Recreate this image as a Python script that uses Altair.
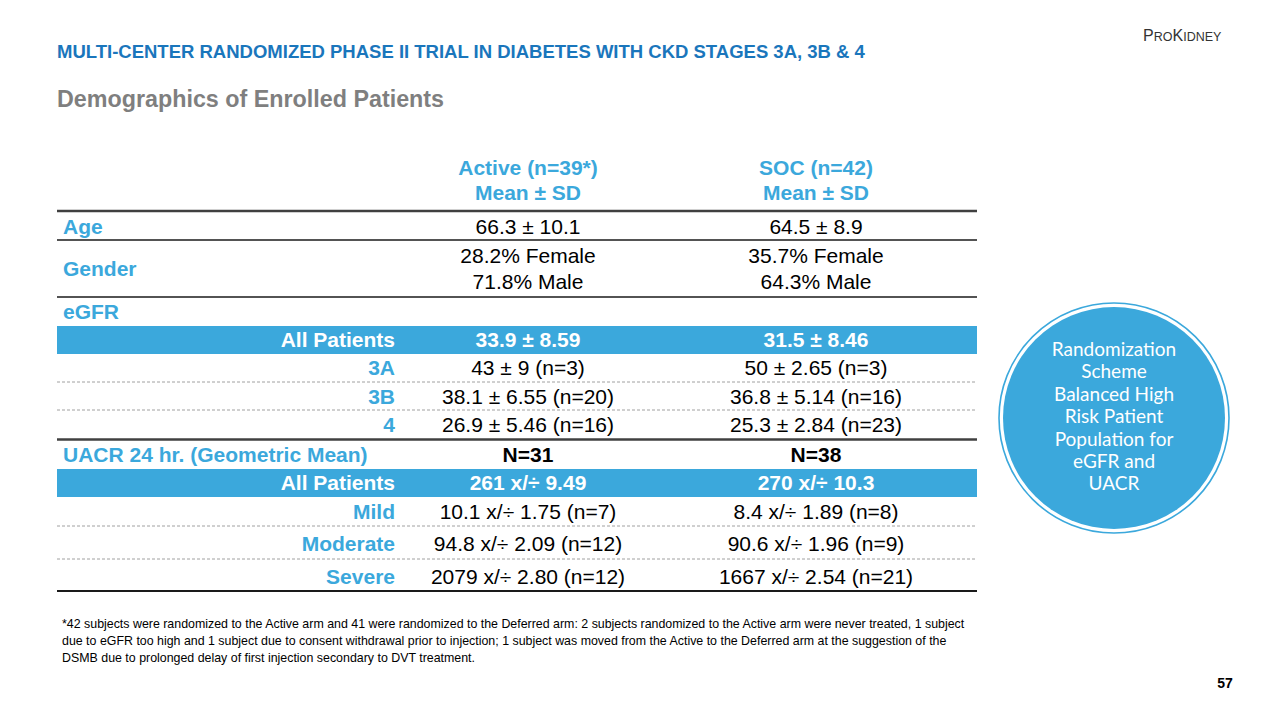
import altair as alt
import pandas as pd

# ---------------- data (text content) ----------------
title_text = "MULTI-CENTER RANDOMIZED PHASE II TRIAL IN DIABETES WITH CKD STAGES 3A, 3B & 4"
subtitle_text = "Demographics of Enrolled Patients"
logo_parts = ["P", "RO", "K", "IDNEY"]
page_number = "57"

arm_headers = ["Active (n=39*)", "SOC (n=42)"]
stat_header = "Mean ± SD"

section_labels = ["Age", "Gender", "eGFR", "UACR 24 hr. (Geometric Mean)"]
age_values = ["66.3 ± 10.1", "64.5 ± 8.9"]
gender_female = ["28.2% Female", "35.7% Female"]
gender_male = ["71.8% Male", "64.3% Male"]

egfr_groups = ["All Patients", "3A", "3B", "4"]
egfr_active = ["33.9 ± 8.59", "43 ± 9 (n=3)", "38.1 ± 6.55 (n=20)", "26.9 ± 5.46 (n=16)"]
egfr_soc = ["31.5 ± 8.46", "50 ± 2.65 (n=3)", "36.8 ± 5.14 (n=16)", "25.3 ± 2.84 (n=23)"]

uacr_n = ["N=31", "N=38"]
uacr_groups = ["All Patients", "Mild", "Moderate", "Severe"]
uacr_active = ["261 x/÷ 9.49", "10.1 x/÷ 1.75 (n=7)", "94.8 x/÷ 2.09 (n=12)", "2079 x/÷ 2.80 (n=12)"]
uacr_soc = ["270 x/÷ 10.3", "8.4 x/÷ 1.89 (n=8)", "90.6 x/÷ 1.96 (n=9)", "1667 x/÷ 2.54 (n=21)"]

callout_lines = ["Randomization", "Scheme", "Balanced High", "Risk Patient",
                 "Population for", "eGFR and", "UACR"]

footnote_lines = [
    "*42 subjects were randomized to the Active arm and 41 were randomized to the Deferred arm: 2 subjects randomized to the Active arm were never treated, 1 subject",
    "due to eGFR too high and 1 subject due to consent withdrawal prior to injection; 1 subject was moved from the Active to the Deferred arm at the suggestion of the",
    "DSMB due to prolonged delay of first injection secondary to DVT treatment.",
]

# ---------------- layout (slide pixel grid) ----------------
W, H = 1264, 704
X_LEFT, X_RIGHT = 57, 977
X_LABEL = 63
X_SUBLABEL = 395
X_ARMS = [528, 816]
Y_HEAD = [169, 194]
Y_AGE = 228
Y_GENDER = [257, 283]
Y_GENDER_LABEL = 270
Y_EGFR_LABEL = 313
Y_EGFR_ROWS = [341, 369, 398, 426]
Y_UACR_LABEL = 456
Y_UACR_ROWS = [484, 513, 545, 578]
BANDS = [(326, 354), (469, 497)]
SOLID = [(211, 2.5, "#404040"), (240, 1.6, "#1a1a1a"), (297, 1.6, "#1a1a1a"),
         (439.5, 2.5, "#404040"), (591, 2.0, "#1a1a1a")]
DASHED = [382, 410, 526, 559]
CIRCLE = (1114, 418)
CALLOUT_Y0, CALLOUT_DY = 350, 22.4
FOOT_X, FOOT_Y0, FOOT_DY = 62, 624, 17
LOGO_X = [1143, 1153.7, 1172.5, 1183.2]
LOGO_SIZE = [16, 12.5, 16, 12.5]
LOGO_BASE = 41

BLUE = "#3ba8dc"
TITLE_BLUE = "#1a76bc"
FONT = "Liberation Sans"

xs = alt.Scale(domain=[8, 8 + W], range=[0, W])
ys = alt.Scale(domain=[8, 8 + H], range=[0, H])


def texts(rows, size, color, weight="normal", align="center", font=FONT, baseline="middle"):
    df = pd.DataFrame(rows, columns=["t", "x", "y"])
    return alt.Chart(df).mark_text(
        fontSize=size, color=color, fontWeight=weight, align=align,
        baseline=baseline, font=font
    ).encode(
        x=alt.X("x:Q", scale=xs, axis=None),
        y=alt.Y("y:Q", scale=ys, axis=None),
        text="t:N",
    )


# bands
band_df = pd.DataFrame({"x": [X_LEFT] * 2, "x2": [X_RIGHT] * 2,
                        "y": [b[0] for b in BANDS], "y2": [b[1] for b in BANDS]})
bands = alt.Chart(band_df).mark_rect(color=BLUE).encode(
    x=alt.X("x:Q", scale=xs, axis=None), x2="x2:Q",
    y=alt.Y("y:Q", scale=ys, axis=None), y2="y2:Q")

solid_df = pd.DataFrame({"x": [X_LEFT] * len(SOLID), "x2": [X_RIGHT] * len(SOLID),
                         "y": [s[0] for s in SOLID], "w": [s[1] for s in SOLID],
                         "c": [s[2] for s in SOLID]})
solid = alt.Chart(solid_df).mark_rule().encode(
    x=alt.X("x:Q", scale=xs, axis=None), x2="x2:Q",
    y=alt.Y("y:Q", scale=ys, axis=None),
    strokeWidth=alt.StrokeWidth("w:Q", scale=None),
    color=alt.Color("c:N", scale=None))

dash_df = pd.DataFrame({"x": [X_LEFT] * len(DASHED), "x2": [X_RIGHT] * len(DASHED), "y": DASHED})
dashed = alt.Chart(dash_df).mark_rule(color="#a0a0a0", strokeWidth=1, strokeDash=[3, 2]).encode(
    x=alt.X("x:Q", scale=xs, axis=None), x2="x2:Q",
    y=alt.Y("y:Q", scale=ys, axis=None))

# callout circle
circ_df = pd.DataFrame({"x": [CIRCLE[0]], "y": [CIRCLE[1]]})
circle_fill = alt.Chart(circ_df).mark_point(shape="circle", filled=True, size=222 ** 2,
                                            color=BLUE, opacity=1).encode(
    x=alt.X("x:Q", scale=xs, axis=None), y=alt.Y("y:Q", scale=ys, axis=None))
circle_ring = alt.Chart(circ_df).mark_point(shape="circle", filled=False, size=230 ** 2,
                                            color=BLUE, strokeWidth=1.6, opacity=1).encode(
    x=alt.X("x:Q", scale=xs, axis=None), y=alt.Y("y:Q", scale=ys, axis=None))

# text rows
header_rows = []
for i, arm in enumerate(arm_headers):
    header_rows.append((arm, X_ARMS[i], Y_HEAD[0]))
    header_rows.append((stat_header, X_ARMS[i], Y_HEAD[1]))

label_rows = [(section_labels[0], X_LABEL, Y_AGE),
              (section_labels[1], X_LABEL, Y_GENDER_LABEL),
              (section_labels[2], X_LABEL, Y_EGFR_LABEL),
              (section_labels[3], X_LABEL, Y_UACR_LABEL)]

sub_rows = [(g, X_SUBLABEL, y) for g, y in zip(egfr_groups[1:], Y_EGFR_ROWS[1:])]
sub_rows += [(g, X_SUBLABEL, y) for g, y in zip(uacr_groups[1:], Y_UACR_ROWS[1:])]

band_label_rows = [(egfr_groups[0], X_SUBLABEL, Y_EGFR_ROWS[0]),
                   (uacr_groups[0], X_SUBLABEL, Y_UACR_ROWS[0])]
band_value_rows = [(egfr_active[0], X_ARMS[0], Y_EGFR_ROWS[0]),
                   (egfr_soc[0], X_ARMS[1], Y_EGFR_ROWS[0]),
                   (uacr_active[0], X_ARMS[0], Y_UACR_ROWS[0]),
                   (uacr_soc[0], X_ARMS[1], Y_UACR_ROWS[0])]

value_rows = []
for i in range(2):
    value_rows.append((age_values[i], X_ARMS[i], Y_AGE))
    value_rows.append((gender_female[i], X_ARMS[i], Y_GENDER[0]))
    value_rows.append((gender_male[i], X_ARMS[i], Y_GENDER[1]))
for a, s, y in zip(egfr_active[1:], egfr_soc[1:], Y_EGFR_ROWS[1:]):
    value_rows += [(a, X_ARMS[0], y), (s, X_ARMS[1], y)]
for a, s, y in zip(uacr_active[1:], uacr_soc[1:], Y_UACR_ROWS[1:]):
    value_rows += [(a, X_ARMS[0], y), (s, X_ARMS[1], y)]

n_rows = [(uacr_n[0], X_ARMS[0], Y_UACR_LABEL), (uacr_n[1], X_ARMS[1], Y_UACR_LABEL)]

callout_rows = [(t, CIRCLE[0], CALLOUT_Y0 + i * CALLOUT_DY) for i, t in enumerate(callout_lines)]
foot_rows = [(t, FOOT_X, FOOT_Y0 + i * FOOT_DY) for i, t in enumerate(footnote_lines)]

logo_layers = [texts([(p, x, LOGO_BASE)], s, "#333333", "normal", "left", baseline="alphabetic")
               for p, x, s in zip(logo_parts, LOGO_X, LOGO_SIZE)]

layers = [
    bands, solid, dashed, circle_ring, circle_fill,
    texts([(title_text, 57, 52)], 18.5, TITLE_BLUE, "bold", "left"),
    texts([(subtitle_text, 57, 100)], 23.3, "#7f7f7f", "bold", "left"),
    *logo_layers,
    texts(header_rows, 21, BLUE, "bold"),
    texts(label_rows, 21, BLUE, "bold", "left"),
    texts(sub_rows, 21, BLUE, "bold", "right"),
    texts(band_label_rows, 21, "white", "bold", "right"),
    texts(band_value_rows, 21, "white", "bold"),
    texts(value_rows, 21, "black", "normal"),
    texts(n_rows, 21, "black", "bold"),
    texts(callout_rows, 19, "white", "normal", "center", "Lato"),
    texts(foot_rows, 12.4, "black", "normal", "left"),
    texts([(page_number, 1225, 684)], 14, "black", "bold"),
]

chart = alt.layer(*layers).properties(
    width=W, height=H, padding=0, autosize="none"
).configure_view(stroke=None)

chart.save("out.html", embed_options={"renderer": "svg", "actions": False})
